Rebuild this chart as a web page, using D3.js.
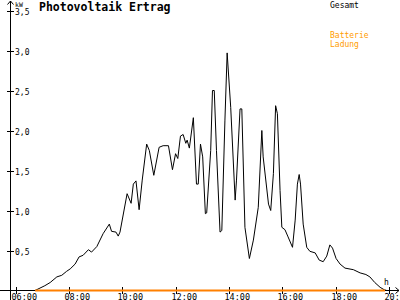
<!DOCTYPE html>
<html>
<head>
<meta charset="utf-8">
<script src="https://cdn.jsdelivr.net/npm/d3@7"></script>
<style>
  body { margin: 0; background: #fff; }
  svg { display: block; }
  text { font-family: "DejaVu Sans Mono", monospace; }
</style>
</head>
<body>
<div id="chart"></div>
<script>
// Gesamt (kW) over the day
const times = ["06:44","06:55","07:06","07:18","07:33","07:44","07:55","08:03","08:14","08:23",
  "08:32","08:44","08:51","09:03","09:17","09:31","09:36","09:46","09:51","09:55",
  "10:11","10:20","10:25","10:31","10:38","10:45","10:55","11:01","11:11","11:23",
  "11:32","11:44","11:53","12:00","12:05","12:11","12:17","12:23","12:26","12:31",
  "12:40","12:47","12:51","12:56","13:01","13:07","13:10","13:19","13:23","13:27",
  "13:32","13:40","13:44","13:51","13:56","14:04","14:14","14:17","14:25","14:29",
  "14:36","14:46","14:55","15:06","15:14","15:17","15:29","15:34","15:40","15:45",
  "15:49","15:55","15:59","16:06","16:13","16:23","16:29","16:34","16:38","16:41",
  "16:47","16:55","17:02","17:14","17:23","17:32","17:40","17:47","17:53","18:01",
  "18:10","18:21","18:40","18:55","19:08","19:17","19:28","19:40","19:49","19:55"];
const gesamt = [0,0.03,0.06,0.10,0.17,0.19,0.24,0.27,0.33,0.42,
  0.44,0.51,0.48,0.55,0.71,0.83,0.74,0.73,0.68,0.73,
  1.21,1.09,1.33,1.37,1.01,1.38,1.83,1.75,1.44,1.79,
  1.81,1.81,1.51,1.71,1.65,1.93,1.95,1.84,1.88,1.78,
  2.16,1.33,1.33,1.83,1.67,0.96,0.97,1.75,2.50,2.50,
  1.75,0.73,0.75,2.13,2.97,2.29,1.13,1.38,2.27,2.27,
  0.79,0.40,0.63,1.04,2.00,1.67,1.08,1.00,1.46,2.31,
  2.21,1.25,0.79,0.76,0.67,0.54,0.88,1.33,1.45,1.33,
  0.83,0.54,0.49,0.47,0.38,0.36,0.43,0.57,0.53,0.40,
  0.33,0.28,0.26,0.22,0.20,0.17,0.10,0.04,0.01,0];

// Batterie Ladung (kW)
const ladungTimes = ["06:44","19:51"];
const ladung = [0,0];

const xTicks = ["06:00","08:00","10:00","12:00","14:00","16:00","18:00","20:00"];
const yTicks = [0.5,1.0,1.5,2.0,2.5,3.0,3.5];

const W = 400, H = 300;
const toHour = s => { const p = s.split(":"); return +p[0] + p[1] / 60; };

const x = d3.scaleLinear().domain([6, 20]).range([15.5, 389]);
const y = d3.scaleLinear().domain([0, 3.5]).range([290.5, 10.5]);

const svg = d3.select("#chart").append("svg")
    .attr("width", W).attr("height", H);

const axisColor = "#000";

// y axis line with arrow
svg.append("line")
    .attr("x1", 10.5).attr("x2", 10.5).attr("y1", 300).attr("y2", 1)
    .attr("stroke", axisColor).attr("shape-rendering", "crispEdges");
svg.append("path")
    .attr("d", "M7.5,4.5 L10.5,1 L13.5,4.5")
    .attr("fill", "none").attr("stroke", axisColor);

// x axis line with arrow
svg.append("line")
    .attr("x1", 0).attr("x2", 399).attr("y1", 290.5).attr("y2", 290.5)
    .attr("stroke", axisColor).attr("shape-rendering", "crispEdges");
svg.append("path")
    .attr("d", "M395.5,287.5 L399,290.5 L395.5,293.5")
    .attr("fill", "none").attr("stroke", axisColor);

// y ticks
const yt = svg.append("g").selectAll("g")
    .data(yTicks).enter().append("g")
    .attr("transform", d => `translate(0,${Math.round(y(d)) + 0.5})`);
yt.append("line")
    .attr("x1", 7).attr("x2", 14)
    .attr("stroke", axisColor).attr("shape-rendering", "crispEdges");
yt.append("text")
    .attr("x", 15).attr("y", 3)
    .attr("font-size", 8)
    .text(d => d3.format(".1f")(d).replace(".", ","));

svg.append("text")
    .attr("x", 15).attr("y", 6.5)
    .attr("font-size", 6.5)
    .text("kW");

// x ticks
const xt = svg.append("g").selectAll("g")
    .data(xTicks).enter().append("g")
    .attr("transform", d => `translate(${Math.round(x(toHour(d))) + 0.5},0)`);
xt.append("line")
    .attr("y1", 287).attr("y2", 294)
    .attr("stroke", axisColor).attr("shape-rendering", "crispEdges");
xt.append("text")
    .attr("x", -5).attr("y", 300)
    .attr("font-size", 8.5)
    .text(d => d);

svg.append("text")
    .attr("x", 384).attr("y", 284.5)
    .attr("font-size", 8)
    .text("h");

// Gesamt line
const line = d3.line()
    .x(d => x(d[0]))
    .y(d => y(d[1]));

svg.append("path")
    .datum(times.map((t, i) => [toHour(t), gesamt[i]]))
    .attr("d", line)
    .attr("fill", "none")
    .attr("stroke", "#000")
    .attr("stroke-width", 1);

// Ladung line
svg.append("path")
    .datum(ladungTimes.map((t, i) => [toHour(t), ladung[i]]))
    .attr("d", line)
    .attr("fill", "none")
    .attr("stroke", "#ff8000")
    .attr("stroke-width", 2);

// title
svg.append("text")
    .attr("x", 39).attr("y", 11)
    .attr("font-size", 11.5)
    .attr("font-weight", "bold")
    .text("Photovoltaik Ertrag");

// legend
svg.append("text").attr("x", 330).attr("y", 7.5).attr("font-size", 8).text("Gesamt");
svg.append("text").attr("x", 330).attr("y", 38).attr("font-size", 8)
    .attr("fill", "#ff9c00").text("Batterie");
svg.append("text").attr("x", 330).attr("y", 46.5).attr("font-size", 8)
    .attr("fill", "#ff9c00").text("Ladung");
</script>
</body>
</html>
